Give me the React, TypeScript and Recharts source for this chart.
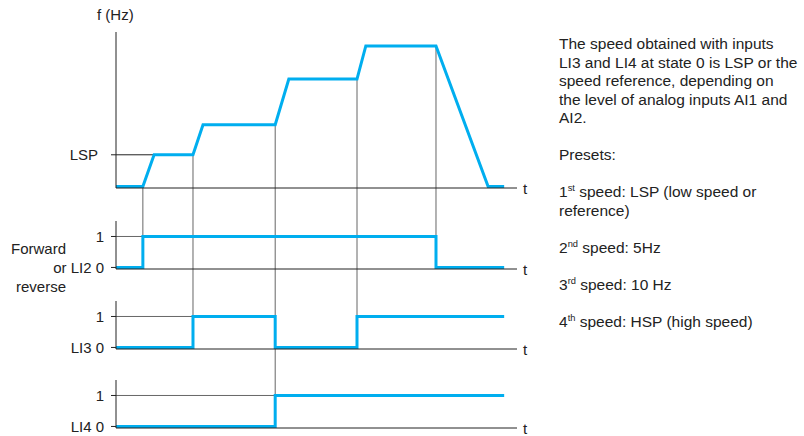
import React from "react";
import { Label, Line, LineChart, ReferenceLine, XAxis, YAxis } from "recharts";

// speed profile f(t)
const speedTimes = [0, 6.7, 9.5, 19.2, 21.7, 39.7, 43.1, 60.1, 62.3, 79.8, 92.8, 96.8];
const speedHz = [0, 0, 20.5, 20.5, 40, 40, 69.5, 69.5, 91, 91, 0, 0];
const lspValue = 20.5;

// logic inputs (0 / 1)
const li2Times = [0, 6.7, 79.8, 96.8];
const li2States = [0, 1, 0, 0];
const li3Times = [0, 19.2, 39.7, 60.1, 96.8];
const li3States = [0, 1, 0, 1, 1];
const li4Times = [0, 39.7, 96.8];
const li4States = [0, 1, 1];

const presetLines = [
  "The speed obtained with inputs",
  "LI3 and LI4 at state 0 is LSP or the",
  "speed reference, depending on",
  "the level of analog inputs AI1 and",
  "AI2.",
];

const BLUE = "#00aeef";
const AXIS = "#222";
const GUIDE = "#666";
const W = 804;
const PLOT_LEFT = 116;
const PLOT_RIGHT = 517;
const X_DOMAIN: [number, number] = [0, 100];
const F_DOMAIN: [number, number] = [-1, 100];
const LI_DOMAIN: [number, number] = [-0.05, 1.5];

const speedData = speedTimes.map((t, i) => ({ t, f: speedHz[i] }));

const signals = [
  { zeroLabel: "or LI2 0", times: li2Times, states: li2States, top: 205, height: 80, mt: 16, mb: 16 },
  { zeroLabel: "LI3 0", times: li3Times, states: li3States, top: 285, height: 80, mt: 16, mb: 16 },
  { zeroLabel: "LI4 0", times: li4Times, states: li4States, top: 365, height: 71, mt: 15, mb: 8 },
];

const changesAt = (times: number[], states: number[]) =>
  times.filter((t, i) => i > 0 && states[i] !== states[i - 1]);

// every switching instant, and the lowest panel where it switches something
const events = Array.from(new Set(signals.flatMap((s) => changesAt(s.times, s.states))))
  .sort((a, b) => a - b)
  .map((t) => ({
    t,
    last: Math.max(...signals.map((s, i) => (changesAt(s.times, s.states).includes(t) ? i : -1))),
  }));

function edgeValues(domain: [number, number], plotH: number, mt: number, mb: number) {
  const k = (domain[1] - domain[0]) / plotH;
  return { top: domain[1] + (mt + 1) * k, bottom: domain[0] - (mb + 1) * k };
}

// x axis takes 1px of the bottom margin
const xAxis = (
  <XAxis
    type="number"
    dataKey="t"
    domain={X_DOMAIN}
    height={1}
    tick={false}
    tickLine={false}
    axisLine={{ stroke: AXIS }}
  >
    <Label value="t" position="right" offset={6} style={{ fontSize: 15, fill: "#222" }} />
  </XAxis>
);

function SpeedChart() {
  const mt = 32;
  const mb = 17;
  const e = edgeValues(F_DOMAIN, 205 - mt - mb, mt, mb);
  return (
    <div style={{ position: "absolute", left: 0, top: 0 }}>
      <LineChart width={W} height={205} data={speedData} margin={{ top: mt, right: W - PLOT_RIGHT, bottom: mb - 1, left: 0 }}>
        {xAxis}
        <YAxis
          type="number"
          domain={F_DOMAIN}
          ticks={[lspValue]}
          interval={0}
          tickFormatter={() => "LSP"}
          width={PLOT_LEFT}
          tickSize={5}
          tickMargin={13}
          axisLine={{ stroke: AXIS }}
          tickLine={{ stroke: AXIS }}
          tick={{ fontSize: 15, fill: "#222" }}
        />
        <ReferenceLine
          segment={[{ x: 0, y: lspValue }, { x: speedTimes[speedHz.indexOf(lspValue)], y: lspValue }]}
          stroke={AXIS}
          ifOverflow="visible"
        />
        {events.map((ev) => (
          <ReferenceLine
            key={ev.t}
            segment={[{ x: ev.t, y: speedHz[speedTimes.indexOf(ev.t)] }, { x: ev.t, y: e.bottom }]}
            stroke={GUIDE}
            ifOverflow="visible"
          />
        ))}
        <Line type="linear" dataKey="f" stroke={BLUE} strokeWidth={3} dot={false} isAnimationActive={false} />
      </LineChart>
    </div>
  );
}

function SignalChart({ index }: { index: number }) {
  const s = signals[index];
  const data = s.times.map((t, i) => ({ t, v: s.states[i] }));
  const e = edgeValues(LI_DOMAIN, s.height - s.mt - s.mb, s.mt, s.mb);
  const firstOn = s.times[s.states.indexOf(1)];
  return (
    <div style={{ position: "absolute", left: 0, top: s.top }}>
      <LineChart width={W} height={s.height} data={data} margin={{ top: s.mt, right: W - PLOT_RIGHT, bottom: s.mb - 1, left: 0 }}>
        {xAxis}
        <YAxis
          type="number"
          domain={LI_DOMAIN}
          ticks={[0, 1]}
          interval={0}
          tickFormatter={(v: number) => (v === 0 ? s.zeroLabel : "1")}
          width={PLOT_LEFT}
          tickSize={5}
          tickMargin={7}
          axisLine={{ stroke: AXIS }}
          tickLine={{ stroke: AXIS }}
          tick={{ fontSize: 15, fill: "#222" }}
        />
        <ReferenceLine segment={[{ x: 0, y: 1 }, { x: firstOn, y: 1 }]} stroke={GUIDE} ifOverflow="visible" />
        {events
          .filter((ev) => ev.last >= index)
          .map((ev) => (
            <ReferenceLine
              key={ev.t}
              segment={[{ x: ev.t, y: e.top }, { x: ev.t, y: ev.last === index ? 1 : e.bottom }]}
              stroke={GUIDE}
              ifOverflow="visible"
            />
          ))}
        <Line type="stepAfter" dataKey="v" stroke={BLUE} strokeWidth={3} dot={false} isAnimationActive={false} />
      </LineChart>
    </div>
  );
}

const textStyle: React.CSSProperties = { position: "absolute", fontSize: 15, color: "#222", whiteSpace: "nowrap" };
const supStyle: React.CSSProperties = { fontSize: "0.6em", lineHeight: 0, verticalAlign: "0.6em" };

export default function App() {
  return (
    <div
      style={{
        position: "absolute",
        left: 0,
        top: 0,
        width: W,
        height: 436,
        background: "#fff",
        fontFamily: "'Liberation Sans', Arial, sans-serif",
        overflow: "hidden",
      }}
    >
      <SpeedChart />
      {signals.map((_, i) => (
        <SignalChart key={i} index={i} />
      ))}

      <div style={{ ...textStyle, left: 97, top: 6 }}>f (Hz)</div>
      <div style={{ ...textStyle, right: W - 66, top: 240, textAlign: "right" }}>Forward</div>
      <div style={{ ...textStyle, right: W - 66, top: 278, textAlign: "right" }}>reverse</div>

      <div style={{ position: "absolute", left: 559, top: 35, fontSize: 15.5, lineHeight: "18.5px", color: "#222", whiteSpace: "nowrap" }}>
        {presetLines.map((l) => (
          <div key={l}>{l}</div>
        ))}
        <div>&nbsp;</div>
        <div>Presets:</div>
        <div>&nbsp;</div>
        <div>
          1<sup style={supStyle}>st</sup> speed: LSP (low speed or
        </div>
        <div>reference)</div>
        <div>&nbsp;</div>
        <div>
          2<sup style={supStyle}>nd</sup> speed: 5Hz
        </div>
        <div>&nbsp;</div>
        <div>
          3<sup style={supStyle}>rd</sup> speed: 10 Hz
        </div>
        <div>&nbsp;</div>
        <div>
          4<sup style={supStyle}>th</sup> speed: HSP (high speed)
        </div>
      </div>
    </div>
  );
}
